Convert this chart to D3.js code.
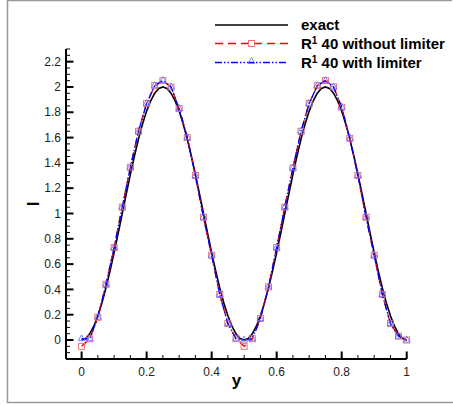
<!DOCTYPE html>
<html>
<head>
<meta charset="utf-8">
<script src="https://cdn.jsdelivr.net/npm/d3@7"></script>
<style>
  body { margin: 0; background: #fff; }
  svg { display: block; font-family: "Liberation Sans", Arial, sans-serif; }
</style>
</head>
<body>
<div id="chart"></div>
<script>
// exact solution, sampled every 0.0125 in y
const exactY = d3.range(81).map(i => i * 0.0125);
const exactI = [
  0, 0.012, 0.049, 0.109, 0.191, 0.293, 0.412, 0.546, 0.691, 0.844,
  1.0, 1.156, 1.309, 1.454, 1.588, 1.707, 1.809, 1.891, 1.951, 1.988,
  2.0, 1.988, 1.951, 1.891, 1.809, 1.707, 1.588, 1.454, 1.309, 1.156,
  1.0, 0.844, 0.691, 0.546, 0.412, 0.293, 0.191, 0.109, 0.049, 0.012,
  0, 0.012, 0.049, 0.109, 0.191, 0.293, 0.412, 0.546, 0.691, 0.844,
  1.0, 1.156, 1.309, 1.454, 1.588, 1.707, 1.809, 1.891, 1.951, 1.988,
  2.0, 1.988, 1.951, 1.891, 1.809, 1.707, 1.588, 1.454, 1.309, 1.156,
  1.0, 0.844, 0.691, 0.546, 0.412, 0.293, 0.191, 0.109, 0.049, 0.012, 0
];

// numerical results, 40 cells
const numY = d3.range(41).map(i => i * 0.025);
const noLimiterI = [
  -0.05, 0.01, 0.18, 0.44, 0.73, 1.05, 1.365, 1.65, 1.87, 2.01,
  2.05, 2.0, 1.83, 1.6, 1.3, 0.97, 0.67, 0.36, 0.13, 0.01,
  -0.05, 0.01, 0.17, 0.42, 0.73, 1.05, 1.36, 1.65, 1.87, 2.01,
  2.05, 2.0, 1.84, 1.594, 1.3, 0.97, 0.67, 0.36, 0.13, 0.03, 0.0
];
const limiterI = [
  0.01, 0.01, 0.18, 0.44, 0.73, 1.05, 1.365, 1.65, 1.87, 2.01,
  2.05, 2.0, 1.83, 1.6, 1.3, 0.97, 0.67, 0.36, 0.13, 0.01,
  0.0, 0.01, 0.17, 0.42, 0.73, 1.05, 1.36, 1.65, 1.87, 2.01,
  2.05, 2.0, 1.84, 1.594, 1.3, 0.97, 0.67, 0.36, 0.13, 0.03, 0.0
];

const xTicks = [0, 0.2, 0.4, 0.6, 0.8, 1];
const yTicks = [0, 0.2, 0.4, 0.6, 0.8, 1, 1.2, 1.4, 1.6, 1.8, 2, 2.2];
const legendLabels = ['exact', 'R', 'R'];

const W = 453, H = 406;
const svg = d3.select('#chart').append('svg').attr('width', W).attr('height', H);

// outer frame (left, top, bottom only)
svg.append('path')
  .attr('d', `M452,0.5 H7.5 V402.5 H453`)
  .attr('fill', 'none').attr('stroke', '#999').attr('stroke-width', 1.5);

const x = d3.scaleLinear().domain([-0.048, 1]).range([66, 406.7]);
const y = d3.scaleLinear().domain([-0.15, 2.3]).range([359, 49]);

const g = svg.append('g');

// minor + major ticks pointing inside
const xMinor = d3.range(-0.05, 1.0001, 0.05).filter(v => v >= -0.048 && v <= 1.0001);
const yMinor = d3.range(-0.15, 2.3001, 0.05);

g.selectAll('line.xminor').data(xMinor).join('line')
  .attr('x1', d => x(d)).attr('x2', d => x(d))
  .attr('y1', y.range()[0]).attr('y2', y.range()[0] - 4)
  .attr('stroke', '#000').attr('stroke-width', 1);
g.selectAll('line.yminor').data(yMinor).join('line')
  .attr('y1', d => y(d)).attr('y2', d => y(d))
  .attr('x1', x.range()[0]).attr('x2', x.range()[0] + 4)
  .attr('stroke', '#000').attr('stroke-width', 1);

g.selectAll('line.xmajor').data(xTicks).join('line')
  .attr('x1', d => x(d)).attr('x2', d => x(d))
  .attr('y1', y.range()[0]).attr('y2', y.range()[0] - 7.5)
  .attr('stroke', '#000').attr('stroke-width', 2);
g.selectAll('line.ymajor').data(yTicks).join('line')
  .attr('y1', d => y(d)).attr('y2', d => y(d))
  .attr('x1', x.range()[0]).attr('x2', x.range()[0] + 7.5)
  .attr('stroke', '#000').attr('stroke-width', 2);

// axis lines
g.append('line')
  .attr('x1', x.range()[0]).attr('x2', x.range()[1])
  .attr('y1', y.range()[0]).attr('y2', y.range()[0])
  .attr('stroke', '#000').attr('stroke-width', 2);
g.append('line')
  .attr('x1', x.range()[0]).attr('x2', x.range()[0])
  .attr('y1', y.range()[0]).attr('y2', y.range()[1])
  .attr('stroke', '#000').attr('stroke-width', 2);

// tick labels
g.selectAll('text.xl').data(xTicks).join('text')
  .attr('x', d => x(d)).attr('y', 376)
  .attr('text-anchor', 'middle').attr('font-size', '12px').attr('fill', '#222')
  .text(d => d3.format('~g')(d));
g.selectAll('text.yl').data(yTicks).join('text')
  .attr('x', 61).attr('y', d => y(d) + 4.2)
  .attr('text-anchor', 'end').attr('font-size', '12px').attr('fill', '#222')
  .text(d => d3.format('~g')(d));

// axis titles
svg.append('text')
  .attr('x', 236.5).attr('y', 386)
  .attr('text-anchor', 'middle').attr('font-size', '17px').attr('font-weight', 'bold')
  .text('y');
svg.append('text')
  .attr('transform', 'translate(38.5,204) rotate(-90)')
  .attr('text-anchor', 'middle').attr('font-size', '17px').attr('font-weight', 'bold')
  .text('I');

const line = d3.line().x(d => x(d[0])).y(d => y(d[1]));

// exact
g.append('path')
  .datum(exactY.map((v, i) => [v, exactI[i]]))
  .attr('d', line).attr('fill', 'none')
  .attr('stroke', '#000').attr('stroke-width', 1.6);

// without limiter
const redPts = numY.map((v, i) => [v, noLimiterI[i]]);
g.append('path')
  .datum(redPts)
  .attr('d', line).attr('fill', 'none')
  .attr('stroke', '#ff0000').attr('stroke-width', 1.4)
  .attr('stroke-dasharray', '8,5');
const sq = 6;
g.selectAll('rect.sq').data(redPts).join('rect')
  .attr('x', d => x(d[0]) - sq / 2).attr('y', d => y(d[1]) - sq / 2)
  .attr('width', sq).attr('height', sq)
  .attr('fill', 'none').attr('stroke', '#e86a6a').attr('stroke-width', 0.9);

// with limiter
const bluePts = numY.map((v, i) => [v, limiterI[i]]);
g.append('path')
  .datum(bluePts)
  .attr('d', line).attr('fill', 'none')
  .attr('stroke', '#0000ff').attr('stroke-width', 1.4)
  .attr('stroke-dasharray', '7,2,1.5,2,1.5,2');
const tri = d3.symbol().type(d3.symbolTriangle).size(20);
g.selectAll('path.tri').data(bluePts).join('path')
  .attr('transform', d => `translate(${x(d[0])},${y(d[1])})`)
  .attr('d', tri)
  .attr('fill', 'none').attr('stroke', '#7070ff').attr('stroke-width', 0.9);

// legend
const lx0 = 215, lx1 = 288, ltx = 301;
const rows = [25, 43.5, 62.5];
const fs = 15;
const leg = svg.append('g');
leg.append('line').attr('x1', lx0).attr('x2', lx1).attr('y1', rows[0]).attr('y2', rows[0])
  .attr('stroke', '#000').attr('stroke-width', 1.6);
leg.append('line').attr('x1', lx0).attr('x2', lx1).attr('y1', rows[1]).attr('y2', rows[1])
  .attr('stroke', '#ff0000').attr('stroke-width', 1.4).attr('stroke-dasharray', '8,5');
leg.append('rect').attr('x', (lx0 + lx1) / 2 - sq / 2).attr('y', rows[1] - sq / 2)
  .attr('width', sq).attr('height', sq)
  .attr('fill', 'none').attr('stroke', '#e86a6a').attr('stroke-width', 0.9);
leg.append('line').attr('x1', lx0).attr('x2', lx1).attr('y1', rows[2]).attr('y2', rows[2])
  .attr('stroke', '#0000ff').attr('stroke-width', 1.4).attr('stroke-dasharray', '7,2,1.5,2,1.5,2');
leg.append('path').attr('transform', `translate(${(lx0 + lx1) / 2},${rows[2] - 1})`)
  .attr('d', tri).attr('fill', 'none').attr('stroke', '#7070ff').attr('stroke-width', 0.9);

leg.append('text').attr('x', ltx).attr('y', rows[0] + 5)
  .attr('font-size', fs + 'px').attr('font-weight', 'bold').text(legendLabels[0]);
const t1 = leg.append('text').attr('x', ltx).attr('y', rows[1] + 5.5)
  .attr('font-size', fs + 'px').attr('font-weight', 'bold');
t1.append('tspan').text(legendLabels[1]);
t1.append('tspan').attr('dy', -5.5).attr('font-size', '10px').text('1');
t1.append('tspan').attr('dy', 5.5).text(' 40 without limiter');
const t2 = leg.append('text').attr('x', ltx).attr('y', rows[2] + 5.5)
  .attr('font-size', fs + 'px').attr('font-weight', 'bold');
t2.append('tspan').text(legendLabels[2]);
t2.append('tspan').attr('dy', -5.5).attr('font-size', '10px').text('1');
t2.append('tspan').attr('dy', 5.5).text(' 40 with limiter');
</script>
</body>
</html>
